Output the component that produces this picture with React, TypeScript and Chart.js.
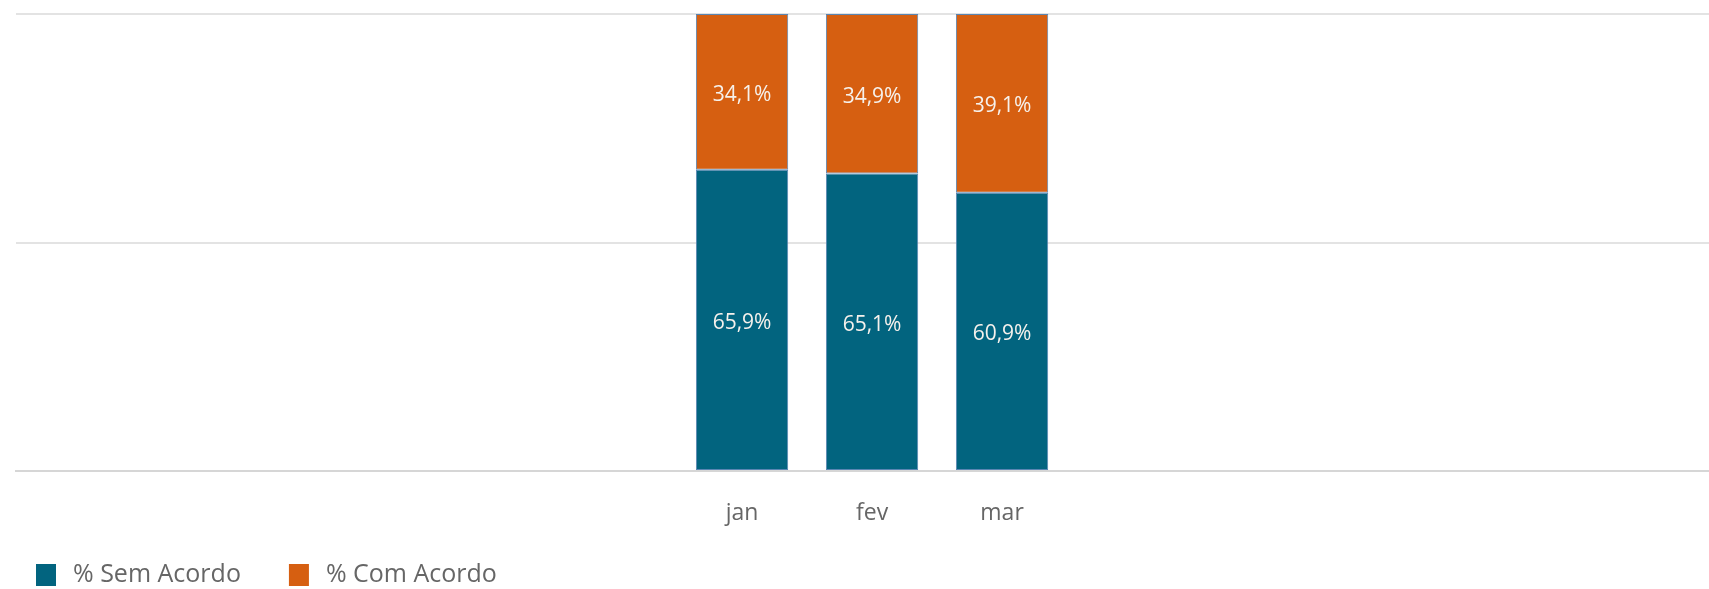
import React, { useEffect, useRef } from "react";
import { Chart, registerables } from "chart.js";

Chart.register(...registerables);

const months: string[] = ["jan", "fev", "mar"];
const semAcordo: number[] = [65.9, 65.1, 60.9];
const comAcordo: number[] = [34.1, 34.9, 39.1];
const seriesNames: string[] = ["% Sem Acordo", "% Com Acordo"];
const seriesColors: string[] = ["#02647f", "#d65f11"];
const yTicks: number[] = [0, 50, 100];

const FONT = '"Open Sans", "DejaVu Sans", sans-serif';

const fmt = (v: number) => v.toFixed(1).replace(".", ",") + "%";

const barLabels = {
  id: "barLabels",
  afterDatasetsDraw(chart: any) {
    const { ctx } = chart;
    ctx.save();
    ctx.font = `21px ${FONT}`;
    ctx.fillStyle = "#f6f1ec";
    ctx.textAlign = "center";
    ctx.textBaseline = "middle";
    chart.data.datasets.forEach((ds: any, di: number) => {
      const meta = chart.getDatasetMeta(di);
      meta.data.forEach((el: any, i: number) => {
        const p = el.getCenterPoint();
        ctx.fillText(fmt(ds.data[i].y), p.x, p.y + 3);
      });
    });
    ctx.restore();
  },
};

// legend drawn below the axis, left-aligned
const bottomLegend = {
  id: "bottomLegend",
  afterDraw(chart: any) {
    const { ctx } = chart;
    const boxW = 20;
    const boxH = 22;
    const gap = 17;
    const itemGap = 48;
    const cy = 575;
    let x = 36;
    ctx.save();
    ctx.font = `25px ${FONT}`;
    ctx.textAlign = "left";
    ctx.textBaseline = "middle";
    chart.data.datasets.forEach((ds: any) => {
      ctx.fillStyle = ds.backgroundColor;
      ctx.fillRect(x, cy - boxH / 2, boxW, boxH);
      ctx.fillStyle = "#666666";
      ctx.fillText(ds.label, x + boxW + gap, cy);
      x += boxW + gap + ctx.measureText(ds.label).width + itemGap;
    });
    ctx.restore();
  },
};

export default function App() {
  const ref = useRef<HTMLCanvasElement | null>(null);

  useEffect(() => {
    if (!ref.current) return;
    const series = [semAcordo, comAcordo];
    const chart = new Chart(ref.current, {
      type: "bar",
      data: {
        datasets: series.map((vals, si) => ({
          label: seriesNames[si],
          data: vals.map((v, i) => ({ x: i, y: v })),
          backgroundColor: seriesColors[si],
          borderColor: "#5a86b3",
          borderWidth: 1,
          borderSkipped: false,
          categoryPercentage: 0.71,
          barPercentage: 1,
        })),
      },
      options: {
        animation: false,
        responsive: true,
        maintainAspectRatio: false,
        layout: { padding: { top: 14, left: 0, right: 0, bottom: 63 } },
        scales: {
          x: {
            type: "linear",
            stacked: true,
            offset: false,
            min: -5.585,
            max: 7.438,
            afterBuildTicks: (axis: any) => {
              axis.ticks = months.map((_, i) => ({ value: i }));
            },
            afterFit: (axis: any) => {
              axis.height = 55;
            },
            ticks: {
              callback: (v: any) => months[v as number] ?? "",
              font: { family: FONT, size: 23 },
              color: "#666666",
              padding: 29,
              maxRotation: 0,
              autoSkip: false,
            },
            grid: { display: false, drawTicks: false, offset: false },
            border: { display: true, color: "#d6d6d6", width: 2 },
          },
          y: {
            stacked: true,
            min: 0,
            max: 100,
            afterBuildTicks: (axis: any) => {
              axis.ticks = yTicks.map((v) => ({ value: v }));
            },
            afterFit: (axis: any) => {
              axis.width = 16;
            },
            ticks: { display: false },
            grid: { color: "#e3e3e3", lineWidth: 2, drawTicks: false },
            border: { display: false },
          },
        },
        plugins: {
          legend: { display: false },
          tooltip: { enabled: false },
        },
      },
      plugins: [barLabels, bottomLegend],
    } as any);
    return () => chart.destroy();
  }, []);

  return (
    <div style={{ position: "fixed", left: 0, top: 0, width: 1709, height: 589, background: "#ffffff" }}>
      <canvas ref={ref} />
    </div>
  );
}
